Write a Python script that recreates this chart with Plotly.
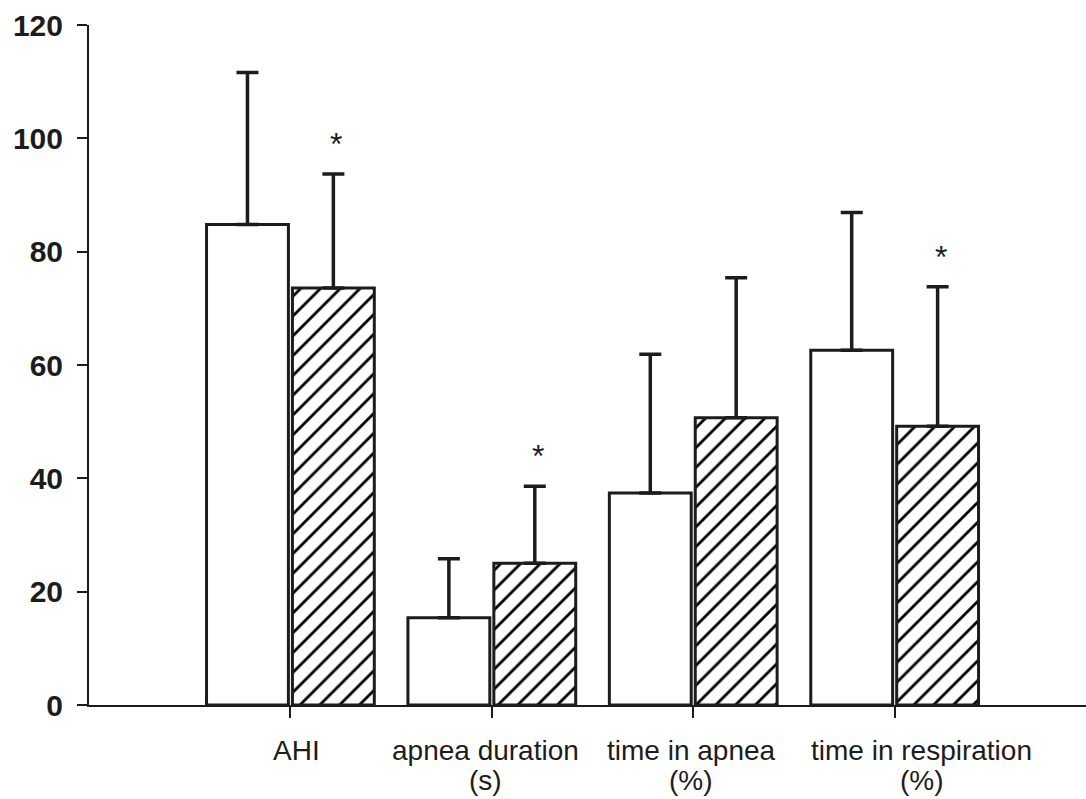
import plotly.graph_objects as go

categories = ["AHI", "apnea duration (s)", "time in apnea (%)", "time in respiration (%)"]
label_line1 = ["AHI", "apnea duration", "time in apnea", "time in respiration"]
label_line2 = ["", "(s)", "(%)", "(%)"]
open_mean = [84.8, 15.4, 37.4, 62.6]
open_sd = [26.8, 10.4, 24.5, 24.3]
hatch_mean = [73.6, 25.0, 50.7, 49.2]
hatch_sd = [20.1, 13.6, 24.7, 24.6]
significant = [True, True, False, True]
y_ticks = [0, 20, 40, 60, 80, 100, 120]

# style: horizontal nudges (px) of the category labels as set in the original
label_shift = [6, -6, -2, 27]

INK = "#1c1c1c"
FONT = "Liberation Sans, Arial"

fig = go.Figure()
fig.add_trace(go.Bar(
    x=categories, y=open_mean,
    marker=dict(color="white", line=dict(color=INK, width=3)),
    error_y=dict(type="data", array=open_sd, arrayminus=[0] * len(open_sd),
                 symmetric=False, color=INK, thickness=3.5, width=11),
    showlegend=False,
))
fig.add_trace(go.Bar(
    x=categories, y=hatch_mean,
    marker=dict(color="white", line=dict(color=INK, width=3),
                pattern=dict(shape="/", fgcolor="#000000", bgcolor="white", fgopacity=1,
                             fillmode="replace", size=14, solidity=0.2)),
    error_y=dict(type="data", array=hatch_sd, arrayminus=[0] * len(hatch_sd),
                 symmetric=False, color=INK, thickness=3.5, width=11),
    showlegend=False,
))

for cat, m, s, sig in zip(categories, hatch_mean, hatch_sd, significant):
    if sig:
        fig.add_annotation(x=cat, y=m + s, xref="x", yref="y", text="*",
                           showarrow=False, xshift=46, yanchor="bottom", yshift=10,
                           font=dict(family=FONT, size=32, color=INK))

for cat, l1, l2, dx in zip(categories, label_line1, label_line2, label_shift):
    fig.add_annotation(x=cat, y=0, xref="x", yref="paper", text=l1, showarrow=False,
                       xshift=dx, yanchor="top", yshift=-28,
                       font=dict(family=FONT, size=28, color=INK))
    if l2:
        fig.add_annotation(x=cat, y=0, xref="x", yref="paper", text=l2, showarrow=False,
                           xshift=dx, yanchor="top", yshift=-58,
                           font=dict(family=FONT, size=28, color=INK))

fig.update_layout(
    width=1086, height=799,
    margin=dict(l=89, r=0, t=25, b=94),
    paper_bgcolor="white", plot_bgcolor="white",
    barmode="group", bargap=0.147, bargroupgap=0.047,
    font=dict(family=FONT, color=INK),
)
fig.update_xaxes(
    range=[-1.0, 3.95], showline=True, linecolor=INK, linewidth=2,
    ticks="outside", ticklen=11, tickwidth=1.5, tickcolor=INK,
    showticklabels=False, showgrid=False, zeroline=False,
)
fig.update_yaxes(
    range=[0, 120], tickvals=y_ticks, showline=True, linecolor=INK, linewidth=2,
    ticks="outside", ticklen=10, tickwidth=2, tickcolor=INK,
    tickfont=dict(family=FONT, size=30, color=INK, weight="bold"),
    showgrid=False, zeroline=False, ticklabelstandoff=8,
)

fig.write_html("out.html")
